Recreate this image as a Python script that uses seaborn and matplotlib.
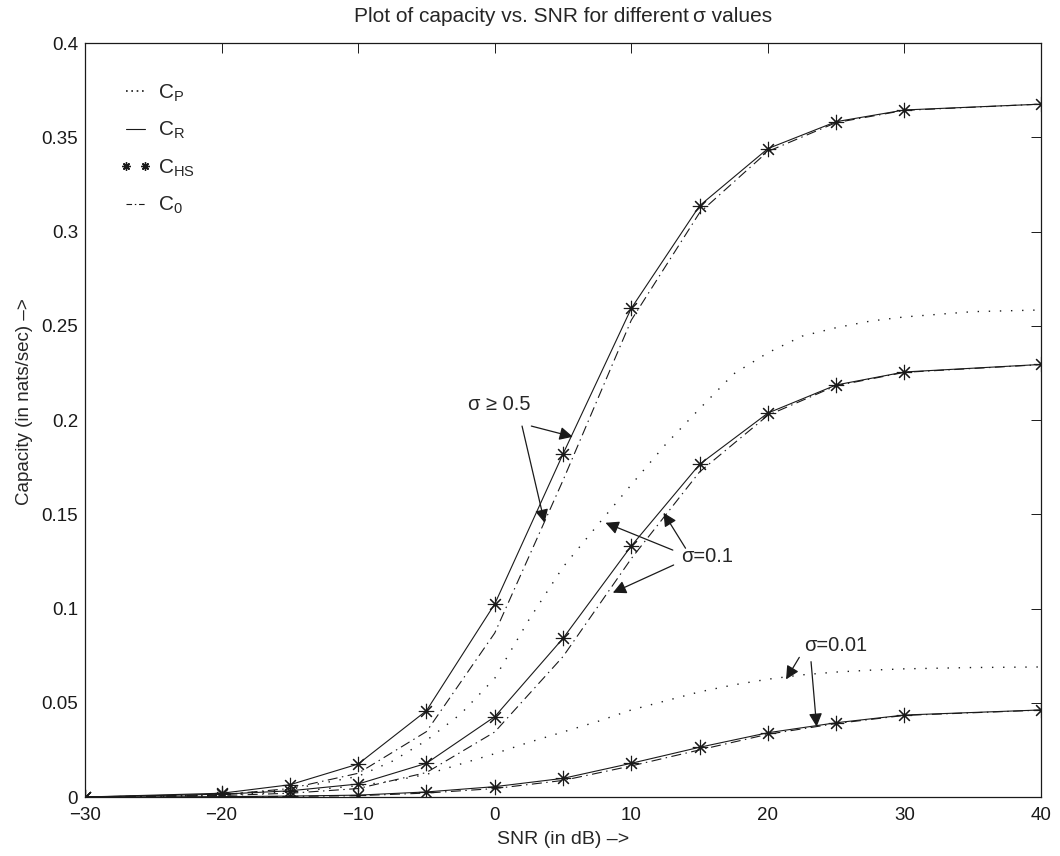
import matplotlib
matplotlib.use("Agg")
import matplotlib.pyplot as plt
from matplotlib.lines import Line2D
import seaborn as sns

# SNR values (dB) at which C_R / C_HS / C_0 were evaluated
snr_pts = [-30, -20, -15, -10, -5, 0, 5, 10, 15, 20, 25, 30, 40]
# finer SNR grid for the C_P curves
snr_fine = [-30, -25, -20, -15, -10, -7.5, -5, -2.5, 0, 2.5, 5, 7.5, 10,
            12.5, 15, 17.5, 20, 22.5, 25, 27.5, 30, 35, 40]

# sigma >= 0.5
cr_high = [0.0, 0.002, 0.0065, 0.0175, 0.0458, 0.1024, 0.182, 0.2593,
           0.3137, 0.344, 0.3583, 0.3645, 0.3676]
c0_high = [0.0, 0.0012, 0.0045, 0.0126, 0.0347, 0.087, 0.168, 0.253,
           0.310, 0.3425, 0.3578, 0.3643, 0.3676]

# sigma = 0.1
cr_mid = [0.0, 0.0015, 0.0033, 0.0069, 0.0179, 0.0426, 0.0842, 0.1332,
          0.1765, 0.2037, 0.2186, 0.2255, 0.2295]
c0_mid = [0.0, 0.0008, 0.002, 0.0045, 0.013, 0.0345, 0.0745, 0.1265,
          0.1725, 0.2025, 0.2182, 0.2253, 0.2294]
cp_mid = [0.0, 0.0004, 0.0013, 0.004, 0.011, 0.019, 0.030, 0.044, 0.063,
          0.094, 0.122, 0.144, 0.1657, 0.187, 0.206, 0.2245, 0.2357, 0.2445,
          0.249, 0.2525, 0.2547, 0.2575, 0.2584]

# sigma = 0.01
cr_low = [0.0, 0.0002, 0.0005, 0.001, 0.0027, 0.0055, 0.0099, 0.0179,
          0.0264, 0.0341, 0.0394, 0.0435, 0.0462]
c0_low = [0.0, 0.0001, 0.0003, 0.0007, 0.0021, 0.0045, 0.0088, 0.0165,
          0.025, 0.0333, 0.039, 0.0433, 0.0461]
cp_low = [0.0, 0.0003, 0.001, 0.0027, 0.006, 0.0085, 0.012, 0.0175, 0.023,
          0.029, 0.0345, 0.040, 0.0462, 0.051, 0.0558, 0.0595, 0.0625, 0.0648,
          0.0663, 0.0673, 0.068, 0.0687, 0.069]

x_ticks = [-30, -20, -10, 0, 10, 20, 30, 40]
x_tick_labels = ["\u221230", "\u221220", "\u221210", "0", "10", "20", "30", "40"]
y_ticks = [0, 0.05, 0.1, 0.15, 0.2, 0.25, 0.3, 0.35, 0.4]
y_tick_labels = ["0", "0.05", "0.1", "0.15", "0.2", "0.25", "0.3", "0.35", "0.4"]

sns.set_theme(style="white")
plt.rcParams["font.family"] = ["Liberation Sans", "DejaVu Sans"]
plt.rcParams["mathtext.fontset"] = "custom"
plt.rcParams["mathtext.rm"] = "Liberation Sans"
plt.rcParams["mathtext.default"] = "regular"
plt.rcParams["axes.unicode_minus"] = True

fig = plt.figure(figsize=(10.6, 8.56), dpi=100)
ax = fig.add_axes([0.0802, 0.0689, 0.9019, 0.8808])

LW = 0.8
DOT = (0, (1, 7))
DASHDOT = (0, (9, 4, 1.3, 4))
STAR = (8, 2, 0)

for cr, c0 in [(cr_high, c0_high), (cr_mid, c0_mid), (cr_low, c0_low)]:
    sns.lineplot(x=snr_pts, y=cr, ax=ax, color="k", lw=LW, linestyle="-")
    sns.lineplot(x=snr_pts, y=c0, ax=ax, color="k", lw=LW, linestyle=DASHDOT)
    sns.lineplot(x=snr_pts, y=cr, ax=ax, color="k", linestyle="none",
                 marker=STAR, markersize=11, mec="k", mew=0.8)

for cp in [cp_mid, cp_low]:
    sns.lineplot(x=snr_fine, y=cp, ax=ax, color="k", lw=1.0, linestyle=DOT)

ax.set_xlim(-30, 40)
ax.set_ylim(0, 0.4)
ax.set_xticks(x_ticks, labels=x_tick_labels)
ax.set_yticks(y_ticks, labels=y_tick_labels)
ax.tick_params(direction="in", top=True, right=True, length=7, width=0.7,
               labelsize=13.5, colors="k", pad=5)
ax.tick_params(axis="x", pad=7)
for sp in ax.spines.values():
    sp.set_color("k")
    sp.set_linewidth(0.9)

ax.set_title("Plot of capacity vs. SNR for different\u2009\u03c3 values",
             fontsize=15, pad=15)
ax.set_xlabel("SNR (in dB) \u2013>", fontsize=14, labelpad=5)
ax.set_ylabel("Capacity (in nats/sec) \u2013>", fontsize=13.5)
ax.yaxis.set_label_coords(-0.054, 0.525)

# legend
handles = [
    Line2D([], [], color="k", lw=1.2, linestyle=(0, (1, 2.2))),
    Line2D([], [], color="k", lw=LW, linestyle="-"),
    Line2D([], [], color="k", linestyle="none", marker=STAR, markersize=6, mew=1.0),
    Line2D([], [], color="k", lw=LW, linestyle=(0, (5, 2.5, 1.3, 2.5))),
]
labels = ["C$_{P}$", "C$_{R}$", "C$_{HS}$", "C$_{0}$"]
ax.legend(handles, labels, loc="upper left", bbox_to_anchor=(0.036, 0.948),
          frameon=False, fontsize=15, handlelength=1.55, handletextpad=0.3,
          labelspacing=0.78, borderpad=0, borderaxespad=0, numpoints=2)

arrow = dict(arrowstyle="-|>", color="k", lw=0.9, mutation_scale=20,
             shrinkA=0, shrinkB=0)

ax.text(0.36, 0.208, "\u03c3 \u2265 0.5", fontsize=14.5, ha="center", va="center")
ax.annotate("", xy=(5.72, 0.1911), xytext=(2.68, 0.1968), arrowprops=arrow)
ax.annotate("", xy=(3.65, 0.1455), xytext=(2.0, 0.1968), arrowprops=arrow)

ax.text(15.54, 0.1275, "\u03c3=0.1", fontsize=14.5, ha="center", va="center")
ax.annotate("", xy=(8.11, 0.1455), xytext=(13.04, 0.131), arrowprops=arrow)
ax.annotate("", xy=(12.36, 0.1508), xytext=(13.97, 0.132), arrowprops=arrow)
ax.annotate("", xy=(8.65, 0.1084), xytext=(13.1, 0.1231), arrowprops=arrow)

ax.text(25.0, 0.0806, "\u03c3=0.01", fontsize=14.5, ha="center", va="center")
ax.annotate("", xy=(21.33, 0.0624), xytext=(22.3, 0.0741), arrowprops=arrow)
ax.annotate("", xy=(23.57, 0.0373), xytext=(23.16, 0.0718), arrowprops=arrow)

fig.savefig("out.png", dpi=100)
